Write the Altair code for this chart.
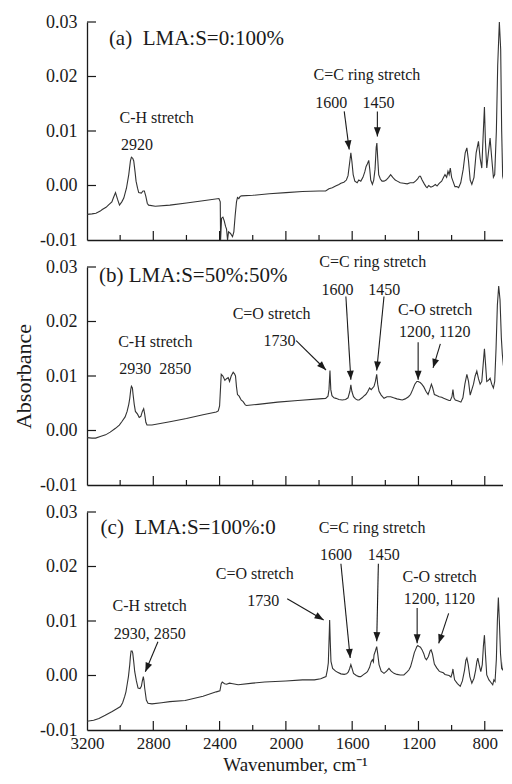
import math
import altair as alt
import pandas as pd

# ---------------- data ----------------
# (a) LMA:S = 0:100%
wn_a = [3200, 3170, 3146, 3120, 3108, 3085, 3068, 3050, 3040, 3028, 3016, 3004, 2990, 2978, 2962,
        2948, 2938, 2932, 2924, 2918, 2910, 2904, 2895, 2888, 2872, 2862, 2854, 2845, 2836, 2828,
        2788, 2700, 2600, 2500, 2404, 2396, 2394, 2388, 2380, 2372, 2364, 2358, 2352, 2346, 2334,
        2322, 2314, 2306, 2298, 2292, 2284, 2276, 2268, 2200, 2100, 2000, 1900, 1800, 1760, 1740,
        1720, 1700, 1680, 1668, 1650, 1635, 1625, 1614, 1608, 1602, 1594, 1584, 1570, 1560, 1548,
        1535, 1524, 1516, 1508, 1500, 1494, 1488, 1478, 1470, 1462, 1455, 1451, 1446, 1440, 1430,
        1420, 1408, 1395, 1380, 1368, 1355, 1340, 1328, 1310, 1290, 1268, 1250, 1230, 1218, 1205,
        1195, 1188, 1178, 1165, 1155, 1148, 1138, 1125, 1110, 1098, 1088, 1075, 1060, 1050, 1040,
        1030, 1022, 1015, 1008, 1000, 992, 980, 968, 958, 945, 930, 918, 908, 898, 888,
        878, 865, 852, 838, 828, 818, 810, 802, 796, 788, 778, 768, 758, 748, 740,
        730, 722, 712, 704, 698, 692, 686, 680, 676, 672, 668, 664, 660, 656]
abs_a = [-0.0053, -0.0052, -0.0051, -0.0047, -0.0044, -0.0040, -0.0035, -0.0030, -0.0022, -0.0013,
         -0.0025, -0.0036, -0.0030, -0.0023, -0.0005, 0.0020, 0.0045, 0.0052, 0.0050, 0.0045,
         0.0025, 0.0008, -0.0005, -0.0013, -0.0014, -0.0010, -0.0010, -0.0020, -0.0033, -0.0036,
         -0.0038, -0.0036, -0.0032, -0.0028, -0.0024, -0.0030, -0.0100, -0.0060, -0.0058, -0.0065,
         -0.0075, -0.0080, -0.0100, -0.0085, -0.0088, -0.0094, -0.0085, -0.0055, -0.0030, -0.0022,
         -0.0024, -0.0020, -0.0019, -0.0018, -0.0015, -0.0013, -0.0011, -0.0010, -0.0010, -0.0006,
         -0.0004, -0.0001, 0.0002, 0.0004, 0.0006, 0.0010, 0.0018, 0.0045, 0.0060, 0.0045,
         0.0020, 0.0008, 0.0005, 0.0010, 0.0008, 0.0015, 0.0025, 0.0035, 0.0040, 0.0046,
         0.0030, 0.0010, 0.0002, 0.0010, 0.0030, 0.0070, 0.0078, 0.0050, 0.0020, 0.0012,
         0.0008, 0.0008, 0.0010, 0.0015, 0.0020, 0.0015, 0.0010, 0.0008, 0.0005, 0.0004,
         0.0003, 0.0005, 0.0005, 0.0008, 0.0012, 0.0017, 0.0017, 0.0010, 0.0003, -0.0002,
         -0.0004, 0.0000, -0.0003, -0.0001, 0.0002, -0.0001, 0.0004, 0.0008, 0.0014, 0.0020,
         0.0015, 0.0026, 0.0020, 0.0032, 0.0015, 0.0008, -0.0002, -0.0002, -0.0004, 0.0005,
         0.0030, 0.0060, 0.0069, 0.0045, 0.0010, 0.0002, 0.0015, 0.0060, 0.0081, 0.0050,
         0.0032, 0.0090, 0.0144, 0.0080, 0.0032, 0.0060, 0.0087, 0.0050, 0.0015, 0.0020,
         0.0100, 0.0220, 0.0300, 0.0250, 0.0100, 0.0017, 0.0010, -0.0040, -0.0056, 0.0000,
         -0.0030, -0.0060, -0.0020, -0.0045]

# (b) LMA:S = 50%:50%
wn_b = [3200, 3170, 3148, 3120, 3088, 3060, 3028, 3005, 2988, 2970, 2958, 2948, 2942, 2936, 2932,
        2926, 2922, 2915, 2908, 2895, 2885, 2875, 2866, 2858, 2852, 2845, 2838, 2808, 2700, 2600,
        2500, 2420, 2408, 2400, 2394, 2390, 2380, 2368, 2358, 2348, 2340, 2330, 2318, 2310, 2304,
        2298, 2292, 2282, 2270, 2258, 2245, 2238, 2168, 2050, 1928, 1800, 1760, 1746, 1740, 1734,
        1729, 1722, 1710, 1698, 1680, 1660, 1640, 1625, 1614, 1608, 1602, 1592, 1580, 1568, 1558,
        1540, 1530, 1518, 1505, 1495, 1485, 1468, 1460, 1452, 1446, 1438, 1425, 1408, 1390, 1368,
        1350, 1330, 1298, 1280, 1260, 1248, 1235, 1222, 1210, 1202, 1190, 1180, 1168, 1155, 1142,
        1132, 1122, 1114, 1104, 1090, 1075, 1060, 1048, 1030, 1015, 1008, 998, 992, 986, 978,
        960, 944, 932, 920, 908, 898, 888, 878, 868, 858, 848, 838, 828, 818, 810,
        802, 796, 788, 778, 768, 758, 748, 740, 732, 724, 716, 708, 700, 694, 688,
        680, 672, 664, 658, 654]
abs_b = [-0.0013, -0.0014, -0.0014, -0.0011, -0.0008, -0.0003, 0.0004, 0.0010, 0.0017, 0.0025,
         0.0035, 0.0048, 0.0059, 0.0075, 0.0081, 0.0078, 0.0066, 0.0048, 0.0035, 0.0030,
         0.0024, 0.0026, 0.0035, 0.0040, 0.0030, 0.0015, 0.0010, 0.0010, 0.0016, 0.0022,
         0.0029, 0.0034, 0.0036, 0.0045, 0.0080, 0.0103, 0.0100, 0.0092, 0.0095, 0.0097,
         0.0090, 0.0100, 0.0107, 0.0104, 0.0100, 0.0080, 0.0066, 0.0063, 0.0056, 0.0053,
         0.0047, 0.0046, 0.0048, 0.0052, 0.0055, 0.0058, 0.0059, 0.0063, 0.0075, 0.0110,
         0.0075, 0.0064, 0.0060, 0.0059, 0.0057, 0.0056, 0.0057, 0.0060, 0.0072, 0.0084,
         0.0072, 0.0062, 0.0058, 0.0056, 0.0056, 0.0060, 0.0063, 0.0066, 0.0072, 0.0078,
         0.0075, 0.0081, 0.0090, 0.0103, 0.0085, 0.0072, 0.0065, 0.0059, 0.0062, 0.0062,
         0.0060, 0.0058, 0.0056, 0.0058, 0.0062, 0.0066, 0.0075, 0.0085, 0.0090, 0.0090,
         0.0088, 0.0085, 0.0080, 0.0072, 0.0066, 0.0075, 0.0085, 0.0078, 0.0066, 0.0064,
         0.0062, 0.0061, 0.0059, 0.0057, 0.0055, 0.0055, 0.0062, 0.0075, 0.0060, 0.0056,
         0.0054, 0.0052, 0.0060, 0.0085, 0.0103, 0.0090, 0.0065, 0.0075, 0.0085, 0.0100,
         0.0109, 0.0095, 0.0085, 0.0090, 0.0120, 0.0150, 0.0125, 0.0090, 0.0092, 0.0096,
         0.0085, 0.0078, 0.0090, 0.0150, 0.0230, 0.0265, 0.0240, 0.0170, 0.0140, 0.0120,
         0.0110, 0.0103, 0.0080, 0.0060, 0.0062]

# (c) LMA:S = 100%:0
wn_c = [3200, 3160, 3128, 3090, 3048, 3020, 2998, 2985, 2972, 2965, 2958, 2950, 2942, 2938, 2934,
        2928, 2924, 2918, 2912, 2902, 2892, 2880, 2872, 2866, 2860, 2856, 2852, 2842, 2832, 2808,
        2750, 2700, 2608, 2500, 2420, 2398, 2390, 2384, 2370, 2358, 2340, 2320, 2288, 2200, 2128,
        2000, 1900, 1828, 1790, 1758, 1750, 1744, 1738, 1736, 1732, 1728, 1718, 1700, 1688, 1668,
        1648, 1634, 1624, 1616, 1608, 1600, 1592, 1575, 1560, 1548, 1530, 1520, 1508, 1495, 1486,
        1478, 1472, 1468, 1460, 1452, 1446, 1438, 1425, 1408, 1392, 1378, 1365, 1348, 1330, 1310,
        1288, 1270, 1258, 1248, 1235, 1225, 1218, 1210, 1204, 1196, 1188, 1178, 1168, 1160, 1152,
        1140, 1130, 1124, 1116, 1104, 1090, 1075, 1068, 1050, 1040, 1028, 1015, 1004, 996, 992,
        988, 982, 965, 948, 935, 922, 914, 908, 900, 890, 878, 865, 855, 848, 842,
        834, 824, 815, 808, 802, 796, 788, 775, 765, 752, 745, 738, 730, 724, 718,
        712, 705, 698, 690, 684, 678, 673, 668, 662, 656]
abs_c = [-0.0084, -0.0082, -0.0079, -0.0073, -0.0066, -0.0061, -0.0057, -0.0050, -0.0038, -0.0030,
         -0.0017, -0.0002, 0.0020, 0.0035, 0.0045, 0.0045, 0.0041, 0.0025, 0.0007, -0.0010,
         -0.0023, -0.0024, -0.0020, -0.0010, -0.0002, -0.0010, -0.0023, -0.0045, -0.0051, -0.0052,
         -0.0050, -0.0048, -0.0046, -0.0038, -0.0030, -0.0028, -0.0015, -0.0012, -0.0015, -0.0016,
         -0.0014, -0.0015, -0.0017, -0.0014, -0.0012, -0.0010, -0.0008, -0.0008, -0.0006, -0.0002,
         0.0010, 0.0023, 0.0080, 0.0102, 0.0060, 0.0026, 0.0013, 0.0008, 0.0006, 0.0003,
         0.0002, 0.0003, 0.0006, 0.0012, 0.0020, 0.0012, 0.0004, 0.0000, -0.0002, -0.0002,
         0.0002, 0.0004, 0.0007, 0.0015, 0.0025, 0.0029, 0.0025, 0.0038, 0.0045, 0.0053,
         0.0040, 0.0020, 0.0008, 0.0004, 0.0008, 0.0013, 0.0008, 0.0004, 0.0002, 0.0001,
         0.0001, 0.0006, 0.0010, 0.0016, 0.0030, 0.0042, 0.0047, 0.0053, 0.0055, 0.0053,
         0.0052, 0.0047, 0.0040, 0.0032, 0.0029, 0.0035, 0.0045, 0.0047, 0.0040, 0.0021,
         0.0014, 0.0008, 0.0007, 0.0005, 0.0002, 0.0001, 0.0000, -0.0003, 0.0005, 0.0012,
         0.0003, -0.0008, -0.0015, -0.0020, -0.0010, 0.0010, 0.0028, 0.0032, 0.0020, -0.0002,
         -0.0014, -0.0005, 0.0010, 0.0025, 0.0032, 0.0020, 0.0007, 0.0020, 0.0055, 0.0074,
         0.0040, 0.0001, -0.0008, -0.0012, -0.0017, -0.0008, -0.0011, 0.0030, 0.0100, 0.0143,
         0.0100, 0.0040, 0.0013, 0.0010, 0.0040, 0.0053, 0.0030, 0.0001, 0.0040, 0.0032]

NB = "\u00a0"
# annotation texts: (label, wavenumber, absorbance)
titles = {"a": ("(a)" + NB + NB + "LMA:S=0:100%", 3068, 0.0268),
          "b": ("(b) LMA:S=50%:50%", 3128, 0.0283),
          "c": ("(c)" + NB + NB + "LMA:S=100%:0", 3118, 0.0271)}

notes_a = [("C-H stretch", 2780, 0.0124), ("2920", 2898, 0.0075),
           ("C=C ring stretch", 1511, 0.0202), ("1600", 1726, 0.0152), ("1450", 1441, 0.0152)]
notes_b = [("C=C ring stretch", 1476, 0.0309), ("1600", 1688, 0.0257), ("1450", 1406, 0.0257),
           ("C=O stretch", 2086, 0.0214), ("1730", 2038, 0.0164),
           ("C-H stretch", 2788, 0.0162), ("2930" + NB + NB + "2850", 2788, 0.0113),
           ("C-O stretch", 1100, 0.0222), ("1200, 1120", 1102, 0.0181)]
notes_c = [("C=C ring stretch", 1480, 0.0270), ("1600", 1698, 0.0221), ("1450", 1410, 0.0221),
           ("C=O stretch", 2188, 0.0187), ("1730", 2136, 0.0137),
           ("C-H stretch", 2822, 0.0128), ("2930, 2850", 2822, 0.0077),
           ("C-O stretch", 1072, 0.0181), ("1200, 1120", 1074, 0.0141)]

# arrows: (x start, y start, x tip, y tip)
arrows_a = [(1648, 0.0136, 1618, 0.0066), (1448, 0.0136, 1448, 0.0090)]
arrows_b = [(1938, 0.0165, 1758, 0.0111), (1638, 0.0246, 1608, 0.0093),
            (1408, 0.0246, 1452, 0.0110), (1202, 0.0162, 1202, 0.0093),
            (1068, 0.0159, 1112, 0.0115)]
arrows_c = [(1992, 0.0141, 1772, 0.0102), (2772, 0.0062, 2848, 0.0007),
            (1668, 0.0205, 1612, 0.0032), (1442, 0.0205, 1452, 0.0063),
            (1208, 0.0124, 1208, 0.0059), (1018, 0.0114, 1078, 0.0059)]

x_major = [3200, 2800, 2400, 2000, 1600, 1200, 800]
x_minor = [3000, 2600, 2200, 1800, 1400, 1000]
y_ticks = [-0.01, 0.0, 0.01, 0.02, 0.03]

# ---------------- chart ----------------
X_MIN, X_MAX = 690, 3200
Y_MIN, Y_MAX = -0.01, 0.03
W, H = 416, 218
KX = W / (X_MAX - X_MIN)      # px per wavenumber
KY = H / (Y_MAX - Y_MIN)      # px per absorbance unit
FONT = "Liberation Serif"
INK = "#1a1a1a"
ARROW = "M0,0L-0.38,1L0.38,1Z"

x_scale = alt.Scale(domain=[X_MIN, X_MAX], reverse=True, nice=False, zero=False)
y_scale = alt.Scale(domain=[Y_MIN, Y_MAX], nice=False, zero=False)


def panel(key, wn, ab, notes, arrows, show_x, y_title):
    xaxis = alt.Axis(values=x_major, format="d", labels=show_x, ticks=False, tickSize=0,
                     grid=False, labelFlush=False, labelOverlap=False, labelPadding=5,
                     labelFontSize=17,
                     title="Wavenumber, cm\u207b\u00b9" if show_x else "", titlePadding=4,
                     titleFontSize=19)
    yaxis = alt.Axis(values=y_ticks, ticks=False, tickSize=0, grid=False, labelFlush=False,
                     labelOverlap=False, labelPadding=10, labelFontSize=18,
                     labelExpr="datum.value < 0 ? '-' + format(-datum.value, '.2f') : format(datum.value, '.2f')",
                     title="Absorbance" if y_title else "", titlePadding=4, titleFontSize=22)

    def X(f):
        return alt.X(f, scale=x_scale, axis=xaxis)

    def Y(f):
        return alt.Y(f, scale=y_scale, axis=yaxis)

    spec = pd.DataFrame({"wn": wn, "ab": ab})
    line = alt.Chart(spec).mark_line(color="#333333", strokeWidth=1.1, clip=True).encode(
        x=X("wn:Q"), y=Y("ab:Q"))

    # inward tick marks
    tick_rows = []
    for t in x_major[1:]:
        tick_rows.append({"x": t, "x2": t, "y": Y_MIN, "y2": Y_MIN + 9 / KY})
    for t in x_minor:
        tick_rows.append({"x": t, "x2": t, "y": Y_MIN, "y2": Y_MIN + 5 / KY})
    for t in y_ticks[1:]:
        tick_rows.append({"x": X_MAX, "x2": X_MAX - 9 / KX, "y": t, "y2": t})
    ticks = alt.Chart(pd.DataFrame(tick_rows)).mark_rule(color=INK, strokeWidth=1.2).encode(
        x=X("x:Q"), x2="x2:Q", y=Y("y:Q"), y2="y2:Q")

    t = titles[key]
    head = alt.Chart(pd.DataFrame([{"label": t[0], "x": t[1], "y": t[2]}])).mark_text(
        font=FONT, fontSize=21, align="left", baseline="middle", color=INK).encode(
        x=X("x:Q"), y=Y("y:Q"), text="label:N")

    nd = pd.DataFrame([{"label": n[0], "x": n[1], "y": n[2]} for n in notes])
    note_layer = alt.Chart(nd).mark_text(
        font=FONT, fontSize=16, align="center", baseline="middle", color=INK).encode(
        x=X("x:Q"), y=Y("y:Q"), text="label:N")

    arows = []
    for (x1, y1, x2, y2) in arrows:
        dx = -(x2 - x1) * KX
        dy = -(y2 - y1) * KY
        ang = math.degrees(math.atan2(dx, -dy)) % 360
        arows.append({"x1": x1, "y1": y1, "x2": x2, "y2": y2, "ang": ang})
    ad = pd.DataFrame(arows)
    shafts = alt.Chart(ad).mark_rule(color=INK, strokeWidth=1.1).encode(
        x=X("x1:Q"), x2="x2:Q", y=Y("y1:Q"), y2="y2:Q")
    heads = alt.Chart(ad).mark_point(shape=ARROW, filled=True, color=INK, opacity=1,
                                     size=330, strokeWidth=0).encode(
        x=X("x2:Q"), y=Y("y2:Q"), angle=alt.Angle("ang:Q", scale=None))

    return alt.layer(line, ticks, head, note_layer, shafts, heads).properties(width=W, height=H)


pa = panel("a", wn_a, abs_a, notes_a, arrows_a, False, False)
pb = panel("b", wn_b, abs_b, notes_b, arrows_b, False, True)
pc = panel("c", wn_c, abs_c, notes_c, arrows_c, True, False)

chart = alt.vconcat(pa, pb, pc, spacing=27, bounds="flush").properties(
    padding={"left": 4, "top": 5, "right": 0, "bottom": 0}
).configure_view(stroke=None).configure_axis(
    domainColor=INK, domainWidth=1.3, labelFont=FONT, labelColor=INK,
    titleFont=FONT, titleFontWeight="normal", titleColor=INK,
)

chart.save("out.html", embed_options={"renderer": "svg", "actions": False})
